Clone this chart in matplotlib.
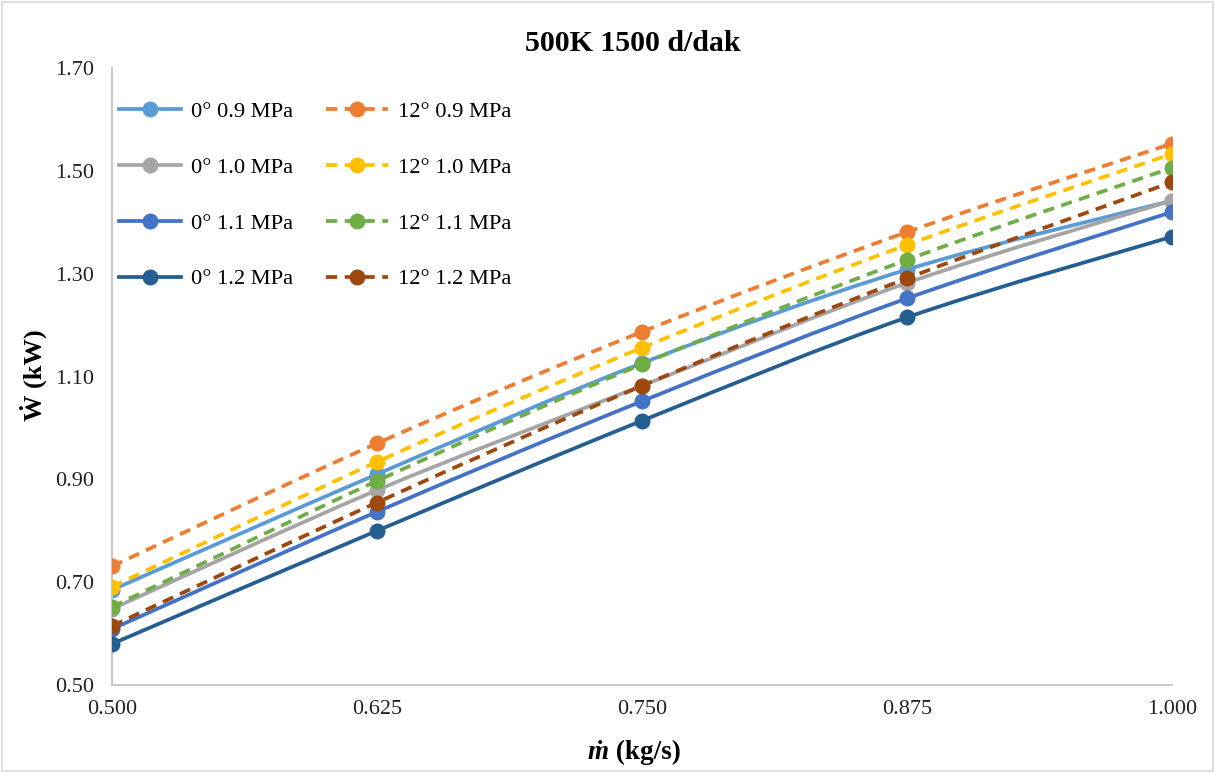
import matplotlib
matplotlib.use("Agg")
import matplotlib.pyplot as plt
from matplotlib.path import Path
from matplotlib.patches import PathPatch, Rectangle
from matplotlib.lines import Line2D

# Mass flow rate (kg/s) and power output (kW) for each blade angle / pressure
mass_flow = [0.500, 0.625, 0.750, 0.875, 1.000]
x_ticks = [0.500, 0.625, 0.750, 0.875, 1.000]
y_ticks = [0.50, 0.70, 0.90, 1.10, 1.30, 1.50, 1.70]

w_0deg_09 = [0.685, 0.910, 1.126, 1.308, 1.442]
w_12deg_09 = [0.731, 0.970, 1.187, 1.381, 1.553]
w_0deg_10 = [0.648, 0.879, 1.082, 1.282, 1.442]
w_12deg_10 = [0.691, 0.934, 1.156, 1.356, 1.533]
w_0deg_11 = [0.609, 0.837, 1.052, 1.252, 1.420]
w_12deg_11 = [0.652, 0.897, 1.124, 1.327, 1.506]
w_0deg_12 = [0.580, 0.800, 1.014, 1.215, 1.372]
w_12deg_12 = [0.615, 0.855, 1.082, 1.291, 1.478]

series = [
    ("0° 0.9 MPa", w_0deg_09, "#5B9BD5", "-"),
    ("12° 0.9 MPa", w_12deg_09, "#ED7D31", "--"),
    ("0° 1.0 MPa", w_0deg_10, "#A5A5A5", "-"),
    ("12° 1.0 MPa", w_12deg_10, "#FFC000", "--"),
    ("0° 1.1 MPa", w_0deg_11, "#4472C4", "-"),
    ("12° 1.1 MPa", w_12deg_11, "#70AD47", "--"),
    ("0° 1.2 MPa", w_0deg_12, "#255E91", "-"),
    ("12° 1.2 MPa", w_12deg_12, "#9E480E", "--"),
]

SERIF = ["Liberation Serif", "DejaVu Serif"]
LW = 2.7
MS = 11.5
DASH = (0, (3.0, 2.0))
TICK_SIZE = 16


def smooth_path(xs, ys):
    """Cubic Bezier path through the points (Catmull-Rom style tangents)."""
    pts = list(zip(xs, ys))
    n = len(pts)
    verts = [pts[0]]
    codes = [Path.MOVETO]
    for i in range(n - 1):
        p0 = pts[i - 1] if i > 0 else pts[i]
        p1 = pts[i]
        p2 = pts[i + 1]
        p3 = pts[i + 2] if i + 2 < n else pts[i + 1]
        c1 = (p1[0] + (p2[0] - p0[0]) / 6.0, p1[1] + (p2[1] - p0[1]) / 6.0)
        c2 = (p2[0] - (p3[0] - p1[0]) / 6.0, p2[1] - (p3[1] - p1[1]) / 6.0)
        verts += [c1, c2, p2]
        codes += [Path.CURVE4, Path.CURVE4, Path.CURVE4]
    return Path(verts, codes)


fig = plt.figure(figsize=(12.15, 7.73), dpi=100)
ax = fig.add_axes([0.0922, 0.1138, 0.8724, 0.7982])

handles = {}
for z, (label, vals, color, ls) in enumerate(series):
    patch = PathPatch(smooth_path(mass_flow, vals), fill=False, edgecolor=color,
                      linewidth=LW, linestyle=ls if ls == "-" else DASH,
                      capstyle="butt", zorder=2 + z)
    ax.add_patch(patch)
    ax.plot(mass_flow, vals, linestyle="none", marker="o", markersize=MS,
            color=color, markeredgewidth=0, zorder=2 + z)
    handles[label] = Line2D([], [], color=color, linewidth=LW,
                            linestyle=ls if ls == "-" else DASH,
                            marker="o", markersize=MS, markeredgewidth=0)

ax.set_xlim(0.5, 1.0)
ax.set_ylim(0.5, 1.7)
ax.set_xticks(x_ticks)
ax.set_xticklabels([f"{v:.3f}" for v in x_ticks])
ax.set_yticks(y_ticks)
ax.set_yticklabels([f"{v:.2f}" for v in y_ticks])
ax.tick_params(axis="both", length=0, labelsize=TICK_SIZE, colors="#222222")
ax.tick_params(axis="y", pad=13)
ax.tick_params(axis="x", pad=11)
for lab in ax.get_xticklabels() + ax.get_yticklabels():
    lab.set_fontfamily(SERIF)

for side in ("top", "right"):
    ax.spines[side].set_visible(False)
for side in ("left", "bottom"):
    ax.spines[side].set_color("#C8C8C8")
    ax.spines[side].set_linewidth(1.5)

order0 = ["0° 0.9 MPa", "0° 1.0 MPa", "0° 1.1 MPa", "0° 1.2 MPa"]
order12 = ["12° 0.9 MPa", "12° 1.0 MPa", "12° 1.1 MPa", "12° 1.2 MPa"]
leg_labels = order0 + order12
ax.legend([handles[k] for k in leg_labels], leg_labels, ncol=2,
          loc="upper left", bbox_to_anchor=(-0.002, 0.961), frameon=False,
          handlelength=2.75, handletextpad=0.45, columnspacing=1.45,
          labelspacing=1.56, borderaxespad=0.0,
          prop={"family": SERIF, "size": 16.2})

fig.text(0.5205, 0.944, "500K 1500 d/dak", ha="center", va="center",
         fontsize=21.5, fontweight="bold", family=SERIF)
fig.text(0.027, 0.514, "Ẇ (kW)", ha="center", va="center", rotation=90,
         fontsize=19, fontweight="bold", family=SERIF)
fig.text(0.501, 0.027, "ṁ", ha="right", va="center", fontsize=19.5,
         fontweight="bold", fontstyle="italic", family=SERIF)
fig.text(0.501, 0.027, " (kg/s)", ha="left", va="center", fontsize=19.5,
         fontweight="bold", family=SERIF)

fig.add_artist(Rectangle((0.002, 0.002), 0.996, 0.996, transform=fig.transFigure,
                         fill=False, edgecolor="#D9D9D9", linewidth=1.2))

fig.savefig("out.png", dpi=100, facecolor="white")
